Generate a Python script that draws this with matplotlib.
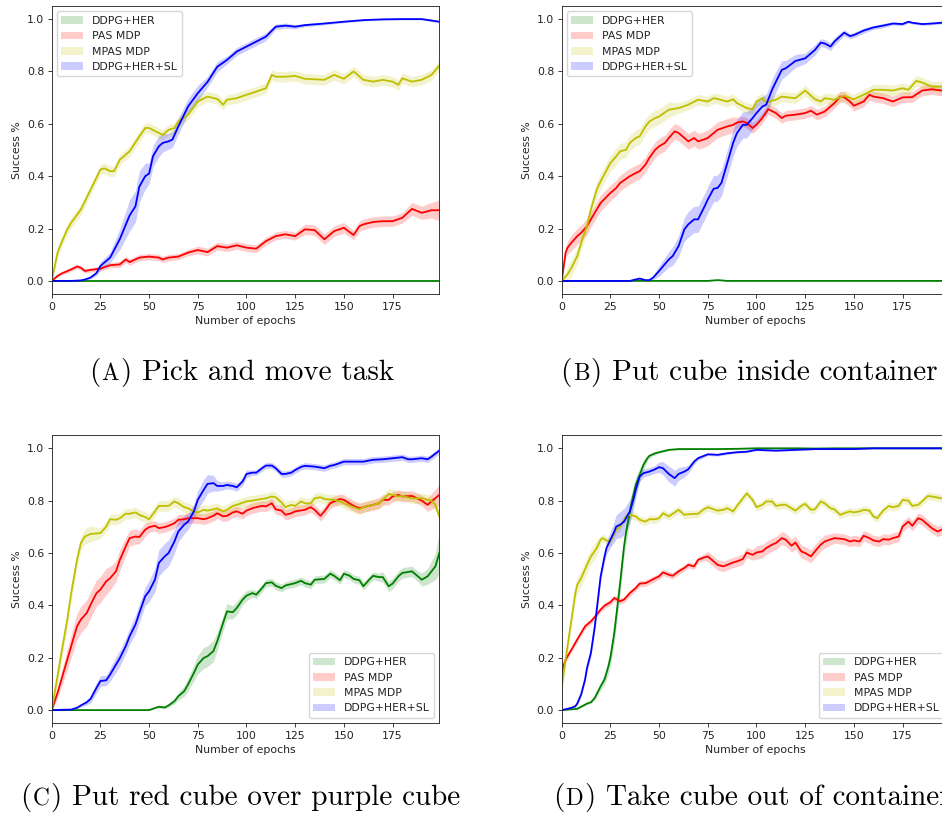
import matplotlib
matplotlib.use("Agg")
import matplotlib.pyplot as plt
import numpy as np

# ---------------- data ----------------
labels = ["DDPG+HER", "PAS MDP", "MPAS MDP", "DDPG+HER+SL"]
colors = ["g", "r", "y", "b"]
x_ticks = [0, 25, 50, 75, 100, 125, 150, 175]
y_ticks = [0.0, 0.2, 0.4, 0.6, 0.8, 1.0]
captions = ["Pick and move task", "Put cube inside container",
            "Put red cube over purple cube", "Take cube out of container"]
caption_letters = ["A", "B", "C", "D"]

# Panel A
a_her_x = [0, 199]
a_her_y = [0, 0]
a_her_b = [0, 0]
a_pas_x = [0,3,5,10,13,15,17,20,25,30,35,38,40,45,50,55,57,60,65,70,75,80,85,90,95,100,105,110,115,120,
           125,130,135,140,145,150,155,158,160,165,170,175,180,185,190,195,199]
a_pas_y = [0,0.019,0.028,0.044,0.055,0.05,0.038,0.042,0.047,0.06,0.063,0.082,0.072,0.089,0.093,0.089,0.082,0.089,0.093,0.108,
           0.118,0.11,0.133,0.127,0.136,0.127,0.123,0.152,0.171,0.178,0.171,0.197,0.194,0.159,0.19,0.203,0.175,0.209,0.216,0.225,
           0.228,0.228,0.241,0.275,0.26,0.27,0.27]
a_pas_b = [0,0.005,0.006,0.008,0.008,0.008,0.008,0.008,0.01,0.01] + [0.012]*10 + [0.015]*10 + \
          [0.015,0.02,0.02,0.02,0.02,0.02,0.018,0.02,0.02,0.02] + [0.02,0.02,0.02,0.025,0.025,0.03,0.04]
a_mpas_x = [0,3,5,8,10,15,20,25,27,30,32,35,40,45,48,50,55,57,60,63,65,70,75,80,85,88,90,95,100,105,
            110,113,115,120,125,130,140,145,150,155,160,165,170,175,178,180,185,190,195,199]
a_mpas_y = [0,0.108,0.146,0.197,0.222,0.273,0.349,0.425,0.43,0.419,0.419,0.463,0.495,0.552,0.584,0.584,0.565,0.558,0.577,0.584,
            0.609,0.635,0.685,0.704,0.695,0.673,0.692,0.698,0.711,0.723,0.736,0.787,0.78,0.78,0.783,0.772,0.768,0.787,0.772,0.80,
            0.768,0.761,0.768,0.761,0.749,0.774,0.761,0.768,0.787,0.822]
a_mpas_b = [0.005] + [0.02]*49
a_sl_x = [0,10,15,17,20,23,25,30,35,40,43,45,48,50,52,55,57,60,62,65,70,75,80,85,90,95,100,105,110,115,
          120,125,130,140,150,160,170,180,190,199]
a_sl_y = [0,0,0.002,0.005,0.013,0.03,0.057,0.089,0.16,0.25,0.285,0.36,0.40,0.41,0.476,0.514,0.527,0.533,0.54,0.59,
          0.666,0.717,0.76,0.818,0.844,0.876,0.895,0.914,0.933,0.971,0.975,0.971,0.977,0.983,0.99,0.996,0.999,1.0,1.0,0.99]
a_sl_b = [0,0,0.002,0.003,0.005,0.01,0.015,0.02,0.04,0.06,0.06,0.06,0.05,0.04,0.04,0.04,0.035,0.03,0.03,0.03,
          0.03,0.03,0.02,0.02,0.015,0.015,0.015,0.015,0.015,0.01,0.01,0.008,0.006,0.005,0.004,0.003,0.003,0.003,0.003,0.005]

# Panel B
b_her_x = [0, 40, 75, 80, 85, 199]
b_her_y = [0, 0, 0, 0.003, 0, 0]
b_her_b = [0]*6
b_pas_x = [0,2,3,5,8,10,13,15,18,20,25,28,30,35,38,40,43,45,48,50,53,55,58,60,63,65,68,70,73,75,
           80,85,88,90,93,95,98,100,103,106,110,113,115,120,125,128,131,135,140,143,145,148,150,155,158,160,165,170,175,180,
           185,190,195,199]
b_pas_y = [0,0.108,0.127,0.146,0.171,0.184,0.209,0.235,0.273,0.298,0.336,0.355,0.374,0.40,0.412,0.419,0.444,0.47,0.501,0.514,
           0.527,0.546,0.571,0.565,0.546,0.533,0.546,0.533,0.54,0.546,0.577,0.59,0.596,0.605,0.609,0.603,0.584,0.596,0.622,0.656,
           0.641,0.622,0.631,0.635,0.641,0.65,0.635,0.647,0.679,0.704,0.702,0.685,0.669,0.685,0.711,0.704,0.698,0.685,0.701,0.702,
           0.727,0.732,0.727,0.73]
b_pas_b = [0.005,0.02,0.025] + [0.03]*30 + [0.02]*31
b_mpas_x = [0,3,5,8,10,13,15,18,20,25,28,30,33,35,38,40,43,45,48,50,55,60,65,70,75,78,80,85,88,90,
            95,98,100,103,105,110,113,115,120,125,130,133,135,140,145,150,155,160,165,170,175,178,182,185,190,195,199]
b_mpas_y = [0,0.025,0.05,0.095,0.146,0.21,0.273,0.349,0.381,0.45,0.476,0.495,0.501,0.527,0.546,0.552,0.59,0.609,0.622,0.628,
            0.654,0.66,0.673,0.692,0.685,0.698,0.695,0.685,0.694,0.679,0.66,0.656,0.685,0.698,0.682,0.692,0.704,0.702,0.698,0.727,
            0.694,0.685,0.698,0.692,0.707,0.694,0.711,0.73,0.73,0.727,0.736,0.73,0.764,0.758,0.742,0.742,0.75]
b_mpas_b = [0.005] + [0.03]*20 + [0.02]*36
b_sl_x = [0,35,40,43,45,47,50,55,57,60,63,65,68,70,73,75,78,80,82,85,88,90,93,95,98,100,103,105,108,110,
          113,115,120,125,130,133,135,138,140,145,148,150,155,160,165,170,175,178,180,185,190,195,199]
b_sl_y = [0,0,0.009,0.003,0.003,0.013,0.038,0.082,0.095,0.133,0.197,0.216,0.235,0.235,0.279,0.311,0.352,0.355,0.374,0.45,
          0.527,0.565,0.596,0.596,0.622,0.641,0.666,0.673,0.73,0.761,0.806,0.812,0.84,0.85,0.882,0.91,0.907,0.895,0.914,0.948,
          0.935,0.939,0.956,0.968,0.975,0.983,0.981,0.99,0.986,0.981,0.983,0.986,0.99]
b_sl_b = [0,0,0.003,0.003,0.003,0.008,0.02,0.03,0.035,0.04] + [0.045] + [0.05]*13 + \
         [0.045,0.04,0.04,0.04,0.04,0.04,0.035,0.03,0.025,0.02,0.02,0.015,0.015,0.015,0.015,0.012,
          0.01,0.01,0.01,0.008,0.008,0.006,0.006,0.005,0.005,0.005,0.005,0.005,0.005]

# Panel C
c_her_x = [0,50,55,58,60,63,65,68,70,73,75,78,80,83,85,88,90,93,95,98,100,103,105,108,110,113,115,118,120,125,
           128,130,133,135,140,143,145,148,150,153,155,158,160,163,165,168,170,173,175,178,180,185,188,190,193,195,197,199]
c_her_y = [0,0,0.013,0.01,0.018,0.034,0.053,0.072,0.098,0.142,0.174,0.199,0.206,0.225,0.263,0.333,0.377,0.374,0.39,0.422,
           0.437,0.447,0.441,0.466,0.485,0.488,0.475,0.466,0.476,0.485,0.494,0.485,0.479,0.498,0.501,0.521,0.513,0.496,0.521,0.513,
           0.501,0.496,0.473,0.498,0.513,0.508,0.508,0.473,0.483,0.511,0.524,0.53,0.511,0.498,0.511,0.53,0.549,0.60]
c_her_b = [0,0,0.005,0.005,0.008,0.01,0.015,0.02,0.025,0.03,0.035,0.04,0.04,0.04,0.035,0.03,0.03,0.025,0.025,0.02,0.02] + \
          [0.015]*25 + [0.02]*7 + [0.025,0.03,0.04,0.05,0.08]
c_pas_x = [0,3,5,8,10,13,15,18,20,23,25,28,30,33,35,38,40,43,45,48,50,53,55,58,60,63,65,68,70,75,
           78,80,83,85,88,90,93,95,98,100,103,105,108,110,113,115,118,120,123,125,130,133,135,138,140,143,145,148,150,155,
           158,160,165,168,170,173,175,178,180,185,190,193,195,199]
c_pas_y = [0,0.066,0.117,0.193,0.244,0.32,0.346,0.371,0.403,0.447,0.46,0.492,0.504,0.53,0.574,0.625,0.657,0.663,0.661,0.689,
           0.699,0.704,0.695,0.699,0.704,0.714,0.727,0.729,0.733,0.733,0.729,0.733,0.742,0.752,0.74,0.742,0.755,0.759,0.75,0.762,
           0.771,0.775,0.78,0.778,0.79,0.767,0.762,0.746,0.752,0.759,0.765,0.775,0.765,0.742,0.759,0.79,0.797,0.806,0.803,0.78,
           0.771,0.775,0.784,0.79,0.803,0.803,0.816,0.822,0.816,0.818,0.80,0.784,0.797,0.822]
c_pas_b = [0.005,0.02,0.03,0.04,0.045,0.05,0.05,0.05,0.05,0.05,0.05,0.05,0.045,0.04,0.04,0.035,0.03,0.03,0.025,0.025] + \
          [0.02]*50 + [0.02,0.025,0.03,0.04]
c_mpas_x = [0,3,5,8,10,13,15,17,20,25,28,30,33,35,38,40,43,45,48,50,53,55,58,60,63,65,68,70,73,75,
            78,80,83,85,88,90,93,95,100,103,105,110,113,115,118,120,123,125,128,130,133,135,138,140,145,148,150,155,158,160,
            165,168,170,173,175,178,180,185,190,195,197,199]
c_mpas_y = [0,0.13,0.219,0.346,0.447,0.574,0.638,0.663,0.673,0.676,0.701,0.729,0.727,0.733,0.75,0.75,0.755,0.746,0.737,0.729,
            0.759,0.78,0.78,0.78,0.797,0.79,0.775,0.771,0.759,0.755,0.765,0.762,0.767,0.771,0.759,0.765,0.78,0.784,0.797,0.80,
            0.803,0.809,0.816,0.813,0.793,0.775,0.784,0.78,0.797,0.79,0.79,0.809,0.813,0.806,0.803,0.797,0.79,0.775,0.767,0.775,
            0.784,0.79,0.803,0.826,0.822,0.816,0.818,0.809,0.809,0.80,0.784,0.74]
c_mpas_b = [0.005] + [0.03]*8 + [0.02]*63
c_sl_x = [0,10,13,15,18,20,23,25,28,30,33,35,38,40,43,45,48,50,53,55,58,60,63,65,68,70,73,75,78,80,
          83,85,88,90,93,95,98,100,103,105,108,110,113,115,118,120,123,125,128,130,135,140,143,145,150,155,160,165,170,175,
          180,183,185,190,193,195,199]
c_sl_y = [0,0.002,0.009,0.018,0.03,0.043,0.085,0.111,0.114,0.136,0.174,0.199,0.244,0.282,0.327,0.371,0.435,0.454,0.498,0.562,
          0.587,0.60,0.644,0.682,0.708,0.72,0.759,0.803,0.841,0.864,0.867,0.856,0.856,0.86,0.856,0.851,0.873,0.902,0.907,0.907,
          0.924,0.934,0.934,0.924,0.902,0.902,0.907,0.917,0.929,0.933,0.93,0.924,0.933,0.936,0.949,0.949,0.949,0.956,0.958,0.962,
          0.966,0.958,0.958,0.962,0.958,0.968,0.991]
c_sl_b = [0,0.002,0.004,0.006,0.01,0.015,0.02,0.02,0.02,0.025,0.03,0.03,0.03,0.03,0.035,0.035,0.035,0.04,0.045,0.05,
          0.05,0.05,0.045,0.04,0.035,0.03,0.03,0.035,0.04,0.035,0.03,0.02,0.015,0.015,0.015,0.015,0.015,0.015,0.01,0.01] + [0.012]*27

# Panel D
d_her_x = [0,5,8,10,13,15,17,20,22,24,25,27,28,30,32,33,35,37,38,40,42,44,45,48,50,55,60,70,80,90,
           100,110,120,130,140,150,160,170,180,190,199]
d_her_y = [0,0.003,0.005,0.013,0.025,0.03,0.047,0.091,0.117,0.168,0.2,0.295,0.358,0.485,0.625,0.676,0.759,0.828,0.86,0.898,
           0.937,0.962,0.971,0.981,0.985,0.994,0.997,0.997,0.997,0.998,1.0,1.0,1.0,0.999,1.0,1.0,1.0,1.0,1.0,1.0,1.0]
d_her_b = [0,0,0.002,0.003,0.005,0.005,0.008,0.015,0.02,0.03,0.03,0.04,0.04,0.04,0.04,0.04,0.04,0.035,0.03,0.025,
           0.02,0.01,0.008,0.005,0.004,0.003,0.003,0.002,0.002,0.002] + [0.002]*11
d_pas_x = [0,2,5,8,10,12,15,18,20,22,25,27,30,32,35,38,40,43,45,48,50,52,55,57,60,63,65,68,70,73,
           75,78,80,83,85,88,90,93,95,98,100,103,105,108,110,113,115,118,120,123,125,128,130,133,135,140,145,148,150,153,
           155,158,160,163,165,168,170,173,175,178,180,183,185,188,190,193,195,199]
d_pas_y = [0.149,0.193,0.231,0.27,0.295,0.32,0.339,0.365,0.384,0.399,0.412,0.428,0.416,0.422,0.447,0.466,0.483,0.485,0.492,0.504,
           0.511,0.526,0.517,0.513,0.53,0.543,0.555,0.549,0.574,0.583,0.587,0.568,0.555,0.549,0.555,0.564,0.568,0.577,0.602,0.593,
           0.602,0.606,0.619,0.632,0.638,0.657,0.651,0.628,0.64,0.606,0.60,0.587,0.606,0.632,0.644,0.657,0.653,0.644,0.648,0.644,
           0.666,0.657,0.648,0.644,0.653,0.651,0.657,0.663,0.701,0.72,0.704,0.733,0.727,0.708,0.695,0.682,0.689,0.69]
d_pas_b = [0.01]*10 + [0.012]*20 + [0.02]*10 + [0.025]*15 + [0.02]*23
d_mpas_x = [0,2,3,5,7,8,10,13,15,18,20,21,23,25,28,30,33,35,38,40,43,45,48,50,52,55,58,60,63,65,
            70,73,75,78,80,83,85,88,90,93,95,98,100,103,105,108,110,113,115,118,120,123,125,128,130,133,135,138,140,143,
            145,148,150,153,155,158,160,162,165,168,170,173,175,178,180,183,185,188,190,195,199]
d_mpas_y = [0.09,0.193,0.244,0.346,0.447,0.479,0.504,0.555,0.587,0.619,0.651,0.657,0.648,0.644,0.689,0.701,0.74,0.746,0.74,0.727,
            0.72,0.729,0.729,0.733,0.752,0.74,0.755,0.765,0.746,0.748,0.75,0.767,0.775,0.767,0.762,0.765,0.771,0.759,0.78,0.809,
            0.828,0.803,0.775,0.784,0.797,0.797,0.78,0.784,0.784,0.771,0.762,0.78,0.788,0.765,0.767,0.797,0.79,0.771,0.767,0.746,
            0.752,0.759,0.755,0.759,0.765,0.762,0.74,0.733,0.762,0.78,0.775,0.78,0.803,0.80,0.78,0.784,0.797,0.818,0.816,0.809,0.81]
d_mpas_b = [0.03]*10 + [0.015]*71
d_sl_x = [0,3,5,7,8,10,12,13,15,17,18,20,22,23,25,27,28,30,32,35,37,38,40,42,45,48,50,52,55,58,
          60,63,65,68,70,75,80,85,90,95,100,110,120,130,150,160,170,180,190,199]
d_sl_y = [0,0.005,0.009,0.015,0.025,0.06,0.117,0.161,0.219,0.32,0.384,0.511,0.587,0.619,0.651,0.682,0.701,0.708,0.72,0.759,
          0.809,0.841,0.892,0.905,0.911,0.92,0.928,0.924,0.902,0.886,0.902,0.911,0.92,0.949,0.962,0.977,0.975,0.981,0.985,0.987,
          0.994,0.991,0.994,0.997,0.997,1.0,1.0,1.0,1.0,1.0]
d_sl_b = [0,0.002,0.003,0.004,0.005,0.008,0.01,0.012,0.015,0.02,0.02,0.02,0.02,0.025,0.03,0.04,0.045,0.05,0.05,0.045,
          0.035,0.03,0.02,0.015,0.015,0.015,0.02,0.025,0.03,0.03,0.025,0.02,0.015,0.01,0.008,0.005,0.005,0.005,0.004,0.004,
          0.003,0.003,0.003,0.002,0.002,0.002,0.002,0.002,0.002,0.002]

panels = [
    [(a_her_x, a_her_y, a_her_b), (a_pas_x, a_pas_y, a_pas_b), (a_mpas_x, a_mpas_y, a_mpas_b), (a_sl_x, a_sl_y, a_sl_b)],
    [(b_her_x, b_her_y, b_her_b), (b_pas_x, b_pas_y, b_pas_b), (b_mpas_x, b_mpas_y, b_mpas_b), (b_sl_x, b_sl_y, b_sl_b)],
    [(c_her_x, c_her_y, c_her_b), (c_pas_x, c_pas_y, c_pas_b), (c_mpas_x, c_mpas_y, c_mpas_b), (c_sl_x, c_sl_y, c_sl_b)],
    [(d_her_x, d_her_y, d_her_b), (d_pas_x, d_pas_y, d_pas_b), (d_mpas_x, d_mpas_y, d_mpas_b), (d_sl_x, d_sl_y, d_sl_b)],
]
legend_locs = ["upper left", "upper left", "lower right", "lower right"]

# ---------------- style ----------------
S = 0.78
plt.rcParams.update({
    "font.family": ["DejaVu Sans"],
    "font.size": 10 * S,
    "axes.linewidth": 0.8 * S,
    "xtick.major.size": 3.5 * S, "ytick.major.size": 3.5 * S,
    "xtick.major.width": 0.8 * S, "ytick.major.width": 0.8 * S,
    "xtick.major.pad": 3.5 * S, "ytick.major.pad": 3.5 * S,
    "axes.labelpad": 4 * S,
    "text.color": "#222222", "axes.labelcolor": "#222222",
    "xtick.color": "#222222", "ytick.color": "#222222",
    "axes.edgecolor": "#222222",
})

W, H = 942, 815
fig = plt.figure(figsize=(W / 100, H / 100), dpi=100)

ax_w, ax_h = 387.6, 288.0
ax_pos = [(51.7, 6.0), (561.7, 6.0), (51.7, 435.2), (561.7, 435.2)]

for k, (px, py) in enumerate(ax_pos):
    ax = fig.add_axes([px / W, 1 - (py + ax_h) / H, ax_w / W, ax_h / H])
    for (xs, ys, bs), lab, col in zip(panels[k], labels, colors):
        xs = np.asarray(xs, float); ys = np.asarray(ys, float); bs = np.asarray(bs, float)
        ax.fill_between(xs, ys - bs, ys + bs, color=col, alpha=0.2, linewidth=0, label=lab)
        ax.plot(xs, ys, color=col, linewidth=1.3)
    ax.set_xlim(0, 199)
    ax.set_ylim(-0.05, 1.05)
    ax.set_xticks(x_ticks)
    ax.set_yticks(y_ticks)
    ax.set_xlabel("Number of epochs")
    ax.set_ylabel("Success %")
    ax.legend(loc=legend_locs[k])

# ---------------- captions (Computer Modern with small caps letter) ----------------
renderer = fig.canvas.get_renderer()
cap_pos = [(89.0, 380.0), (560.0, 380.0), (20.0, 805.0), (553.0, 805.0)]
CS = 21
for (cx, cy), let, txt in zip(cap_pos, caption_letters, captions):
    X = cx / W
    Y = 1 - cy / H
    t1 = fig.text(X, Y, "(", fontsize=CS, family="cmr10", color="black", va="baseline", ha="left")
    w1 = t1.get_window_extent(renderer).width + 1.5
    t2 = fig.text(X + w1 / W, Y, let, fontsize=CS * 0.8, family="cmr10", color="black", va="baseline", ha="left")
    w2 = t2.get_window_extent(renderer).width + 1.5
    fig.text(X + (w1 + w2) / W, Y, ") " + txt, fontsize=CS, family="cmr10", color="black",
             va="baseline", ha="left")

fig.savefig("out.png", dpi=100)
